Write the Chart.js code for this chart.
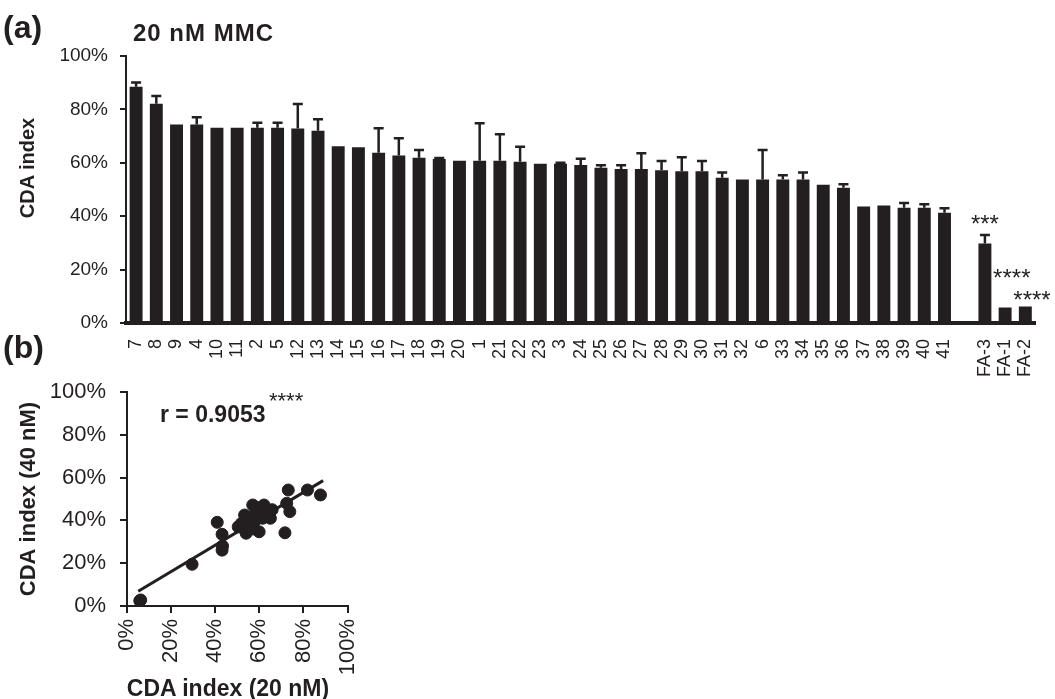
<!DOCTYPE html>
<html>
<head>
<meta charset="utf-8">
<script src="https://cdn.jsdelivr.net/npm/chart.js@4"></script>
<style>
  html, body { margin:0; padding:0; background:#fff; overflow:hidden; }
  body { width:1055px; height:699px; position:relative; font-family:"Liberation Sans", Arial, sans-serif; color:#231f20; }
  canvas { position:absolute; }
  .lbl { position:absolute; white-space:nowrap; font-weight:bold; line-height:1; z-index:2; }
  .rot { position:absolute; width:240px; text-align:center; white-space:nowrap; font-weight:bold; line-height:1; transform:rotate(-90deg); z-index:2; }
</style>
</head>
<body>
<div class="lbl" style="left:3px;top:11px;font-size:32px;">(a)</div>
<div class="lbl" style="left:133px;top:21px;font-size:24px;letter-spacing:1px;">20 nM MMC</div>
<div class="rot" style="left:-93px;top:158px;font-size:20px;">CDA index</div>
<div class="lbl" style="left:3px;top:331px;font-size:32px;">(b)</div>
<div class="lbl" style="left:160px;top:403px;font-size:23px;">r = 0.9053</div>
<div class="lbl" style="left:269px;top:390px;font-size:22px;font-weight:normal;">****</div>
<div class="lbl" style="left:108px;top:677px;width:240px;text-align:center;font-size:23px;">CDA index (20 nM)</div>

<canvas id="bars" width="1055" height="385" style="left:0;top:0;width:1055px;height:385px;"></canvas>
<canvas id="corr" width="380" height="339" style="left:0;top:360px;width:380px;height:339px;"></canvas>

<script>
(function(){
  const INK = "#231f20";

  // ---------- data: (a) CDA index at 20 nM MMC ----------
  const lines = ["7","8","9","4","10","11","2","5","12","13","14","15","16","17","18","19","20","1","21","22",
                 "23","3","24","25","26","27","28","29","30","31","32","6","33","34","35","36","37","38","39","40","41",
                 "","FA-3","FA-1","FA-2"];
  const cda20 = [88.5,82.1,74.3,74.3,73.1,73.1,73.1,73.1,72.8,72.0,66.2,65.8,63.8,62.7,61.9,61.4,60.8,60.8,60.8,60.4,
                 59.6,59.6,59.2,58.1,57.7,57.7,57.2,56.8,56.8,54.4,53.7,53.7,53.7,53.7,51.8,50.7,43.6,44.0,43.2,43.2,41.3,
                 null,29.8,5.8,6.2];
  const sem20 = [1.6,2.9,0,2.8,0,0,1.9,1.9,9.2,4.3,0,0,9.1,6.5,2.9,0.4,0,14.0,9.9,5.6,
                 0,0.4,2.3,1.0,1.4,5.9,3.5,5.3,3.9,2.0,0,11.1,1.6,2.7,0,1.3,0,0,1.7,1.3,1.7,
                 0,3.2,0,0];
  // significance marks (category, text, level in %)
  const sigCats = ["FA-3","FA-1","FA-2"];
  const sigText = ["***","****","****"];
  const sigLevel = [38.6,18.1,9.8];
  const pctTicks = [0,20,40,60,80,100];

  // ---------- data: (b) 20 nM vs 40 nM ----------
  const x20 = [5.8,6.2,29.5,40.9,43.1,43.1,43.3,50.4,51.9,53.3,54.1,54.0,56.3,57.0,57.7,58.5,59.9,60.7,60.5,62.1,
               61.5,63.6,65.0,65.8,71.6,72.4,73.1,73.8,81.8,87.7,55.5,59.0,52.5,57.0];
  const y40 = [2.4,2.8,19.5,39.1,33.5,26.1,28.0,37.0,38.6,42.5,35.0,34.0,38.6,47.2,39.4,44.0,34.7,43.3,45.5,47.2,
               41.0,43.3,41.0,45.0,34.2,48.0,54.2,44.1,54.2,51.9,41.5,46.0,36.5,36.0];
  const fitX = [5.1,88.9];
  const fitY = [6.9,58.6];

  Chart.defaults.font.family = '"Liberation Sans", Arial, sans-serif';
  Chart.defaults.color = INK;
  Chart.defaults.animation = false;

  const pct = v => v + "%";

  // ---------- error bars + asterisks ----------
  const errorBars = {
    id:"errorBars",
    afterDatasetsDraw(chart){
      const ctx = chart.ctx, y = chart.scales.y, meta = chart.getDatasetMeta(0);
      ctx.save();
      ctx.strokeStyle = INK;
      ctx.lineWidth = 2.5;
      cda20.forEach((v,i)=>{
        if(v == null || !sem20[i]) return;
        const bx = meta.data[i].x, y0 = y.getPixelForValue(v), y1 = y.getPixelForValue(v + sem20[i]);
        ctx.beginPath();
        ctx.moveTo(bx, y0); ctx.lineTo(bx, y1);
        ctx.moveTo(bx - 5, y1); ctx.lineTo(bx + 5, y1);
        ctx.stroke();
      });
      ctx.fillStyle = INK;
      ctx.font = '24px "Liberation Sans", Arial, sans-serif';
      ctx.textBaseline = "middle";
      sigCats.forEach((c,k)=>{
        const i = lines.indexOf(c);
        const bx = meta.data[i].x;
        ctx.textAlign = sigText[k].length === 3 ? "center" : "left";
        const sx = sigText[k].length === 3 ? bx : bx - 12;
        ctx.fillText(sigText[k], sx, y.getPixelForValue(sigLevel[k]) + 5);
      });
      ctx.restore();
    }
  };

  new Chart(document.getElementById("bars"), {
    type:"bar",
    data:{ labels: lines, datasets:[{ data: cda20, backgroundColor: INK, barPercentage: 0.64, categoryPercentage: 1 }] },
    options:{
      responsive:false,
      layout:{ padding:{ top:56, right:6, left:0, bottom:0 } },
      plugins:{ legend:{display:false}, tooltip:{enabled:false} },
      scales:{
        x:{
          grid:{ display:false },
          border:{ display:true, color:INK, width:4 },
          ticks:{ autoSkip:false, minRotation:90, maxRotation:90, padding:8, font:{size:18}, color:INK },
          afterFit(s){ s.height = 62; }
        },
        y:{
          min:0, max:100,
          afterBuildTicks(s){ s.ticks = pctTicks.map(v=>({value:v})); },
          grid:{ drawOnChartArea:false, drawTicks:true, tickLength:6, color:INK, lineWidth:2 },
          border:{ display:true, color:INK, width:2 },
          ticks:{ callback: pct, padding:12, font:{size:19}, color:INK },
          afterFit(s){ s.width = 126; }
        }
      }
    },
    plugins:[errorBars]
  });

  // ---------- (b) correlation ----------
  new Chart(document.getElementById("corr"), {
    type:"scatter",
    data:{ datasets:[
      { data: x20.map((v,i)=>({x:v, y:y40[i]})), backgroundColor: INK, borderColor: INK, pointRadius:6, pointHoverRadius:6 },
      { data: fitX.map((v,i)=>({x:v, y:fitY[i]})), showLine:true, borderColor: INK, borderWidth:3, pointRadius:0 }
    ]},
    options:{
      responsive:false,
      layout:{ padding:{ top:32, right:25, left:0, bottom:0 } },
      plugins:{ legend:{display:false}, tooltip:{enabled:false} },
      scales:{
        x:{
          type:"linear", min:0, max:100,
          afterBuildTicks(s){ s.ticks = pctTicks.map(v=>({value:v})); },
          grid:{ drawOnChartArea:false, drawTicks:true, tickLength:7, color:INK, lineWidth:2 },
          border:{ display:true, color:INK, width:2 },
          ticks:{ callback: pct, minRotation:90, maxRotation:90, padding:6, font:{size:22}, color:INK },
          afterFit(s){ s.height = 93; }
        },
        y:{
          min:0, max:100,
          afterBuildTicks(s){ s.ticks = pctTicks.map(v=>({value:v})); },
          grid:{ drawOnChartArea:false, drawTicks:true, tickLength:7, color:INK, lineWidth:2 },
          border:{ display:true, color:INK, width:2 },
          ticks:{ callback: pct, padding:14, font:{size:22}, color:INK },
          title:{ display:true, text:"CDA index (40 nM)", font:{size:22, weight:"bold"}, padding:{top:16, bottom:0}, color:INK },
          afterFit(s){ s.width = 127; }
        }
      }
    }
  });
})();
</script>
</body>
</html>
